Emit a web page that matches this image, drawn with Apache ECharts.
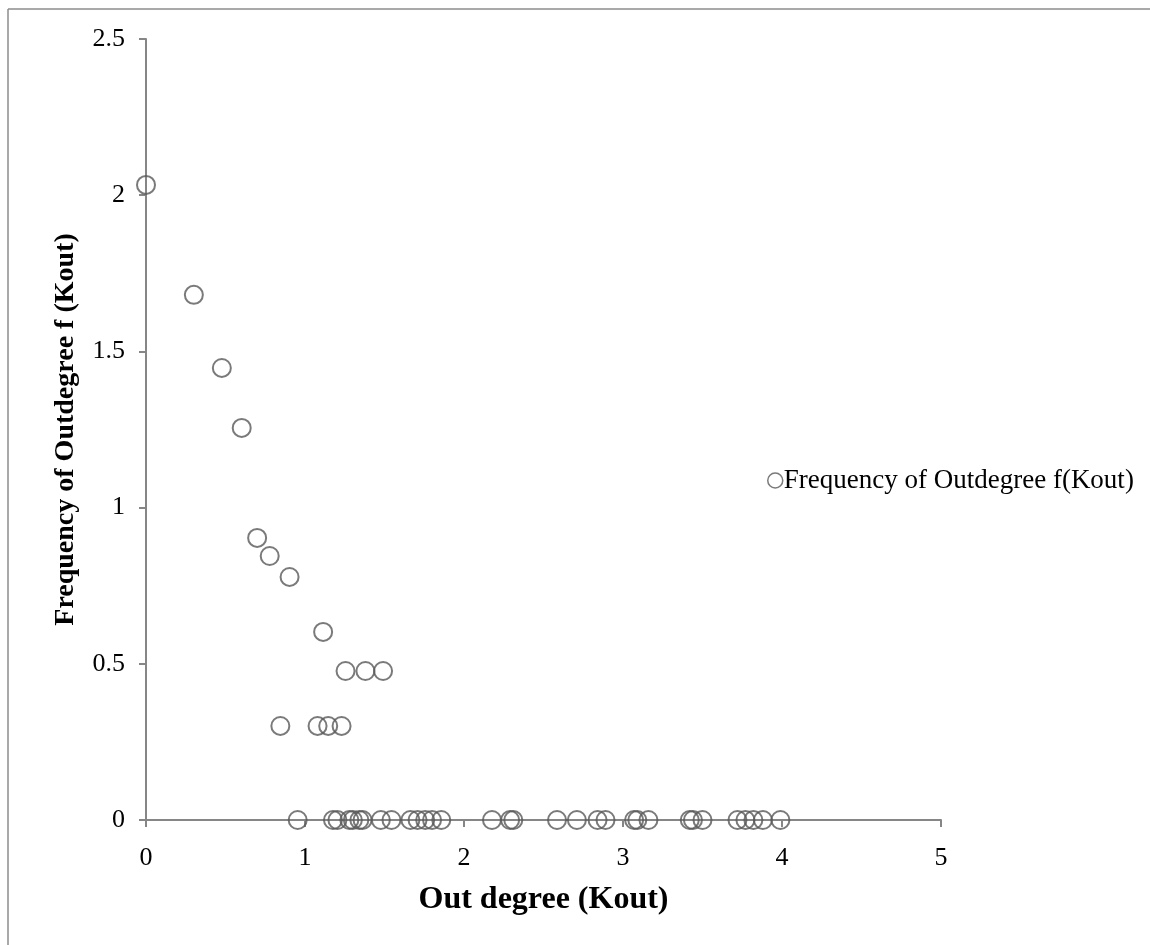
<!DOCTYPE html>
<html>
<head>
<meta charset="utf-8">
<script src="https://cdn.jsdelivr.net/npm/echarts@6/dist/echarts.min.js"></script>
<style>
  html, body { margin: 0; padding: 0; background: #ffffff; }
  #chart { width: 1150px; height: 945px; }
</style>
</head>
<body>
<div id="chart"></div>
<script>
// Out degree (log scale values) and their frequencies
const outDegree = [
  0, 0.301, 0.477, 0.602, 0.699, 0.778, 0.903, 1.114,
  1.255, 1.380, 1.491,
  0.845, 1.079, 1.146, 1.230,
  0.954, 1.176, 1.204, 1.279, 1.301, 1.342, 1.362, 1.477, 1.544,
  1.663, 1.708, 1.756, 1.799, 1.857,
  2.176, 2.290, 2.310, 2.585, 2.710, 2.840, 2.890,
  3.070, 3.090, 3.160, 3.420, 3.440, 3.500,
  3.720, 3.770, 3.820, 3.880, 3.990
];
const frequency = [
  2.033, 1.681, 1.447, 1.255, 0.903, 0.845, 0.778, 0.602,
  0.477, 0.477, 0.477,
  0.301, 0.301, 0.301, 0.301,
  0, 0, 0, 0, 0, 0, 0, 0, 0,
  0, 0, 0, 0, 0,
  0, 0, 0, 0, 0, 0, 0,
  0, 0, 0, 0, 0, 0,
  0, 0, 0, 0, 0
];
const seriesName = 'Frequency of Outdegree f(Kout)';
const xAxisTitle = 'Out degree (Kout)';
const yAxisTitle = 'Frequency of Outdegree f (Kout)';

const points = outDegree.map((x, i) => [x, frequency[i]]);

const font = '"Liberation Serif", "Times New Roman", serif';
const axisGray = '#868686';

const chart = echarts.init(document.getElementById('chart'), null, { renderer: 'canvas' });
chart.setOption({
  backgroundColor: '#ffffff',
  animation: false,
  grid: { left: 146, right: 209, top: 39, bottom: 125, containLabel: false },
  legend: {
    show: true,
    left: 762,
    top: 462,
    orient: 'vertical',
    icon: 'circle',
    itemWidth: 15,
    itemHeight: 15,
    itemGap: 4,
    textStyle: { fontFamily: font, fontSize: 27, color: '#000000', padding: [0, 0, 0, -4] },
    itemStyle: { color: 'transparent', borderColor: '#595959', borderWidth: 1.5 },
    data: [seriesName]
  },
  xAxis: {
    type: 'value',
    min: 0, max: 5, interval: 1,
    name: xAxisTitle,
    nameLocation: 'middle',
    nameGap: 64,
    nameTextStyle: { fontFamily: font, fontSize: 32, fontWeight: 'bold', color: '#000000' },
    axisLine: { show: true, onZero: false, lineStyle: { color: axisGray, width: 2 } },
    axisTick: { show: true, inside: false, length: 7, lineStyle: { color: axisGray, width: 2 } },
    axisLabel: { fontFamily: font, fontSize: 26, color: '#000000', margin: 25 },
    splitLine: { show: false }
  },
  yAxis: {
    type: 'value',
    min: 0, max: 2.5, interval: 0.5,
    name: yAxisTitle,
    nameLocation: 'middle',
    nameGap: 66,
    nameRotate: 90,
    nameTextStyle: { fontFamily: font, fontSize: 28, fontWeight: 'bold', color: '#000000' },
    axisLine: { show: true, lineStyle: { color: axisGray, width: 2 } },
    axisTick: { show: true, inside: false, length: 7, lineStyle: { color: axisGray, width: 2 } },
    axisLabel: { fontFamily: font, fontSize: 26, color: '#000000', margin: 21 },
    splitLine: { show: false }
  },
  series: [{
    name: seriesName,
    type: 'scatter',
    data: points,
    symbol: 'circle',
    symbolSize: 18,
    itemStyle: { color: 'transparent', borderColor: '#595959', borderWidth: 2 },
    emphasis: { disabled: true },
    z: 3
  }],
  graphic: [
    { type: 'line', shape: { x1: 8, y1: 9, x2: 1150, y2: 9 }, style: { stroke: '#8c8c8c', lineWidth: 1.5 } },
    { type: 'line', shape: { x1: 8, y1: 9, x2: 8, y2: 945 }, style: { stroke: '#8c8c8c', lineWidth: 1.5 } }
  ]
});
</script>
</body>
</html>
